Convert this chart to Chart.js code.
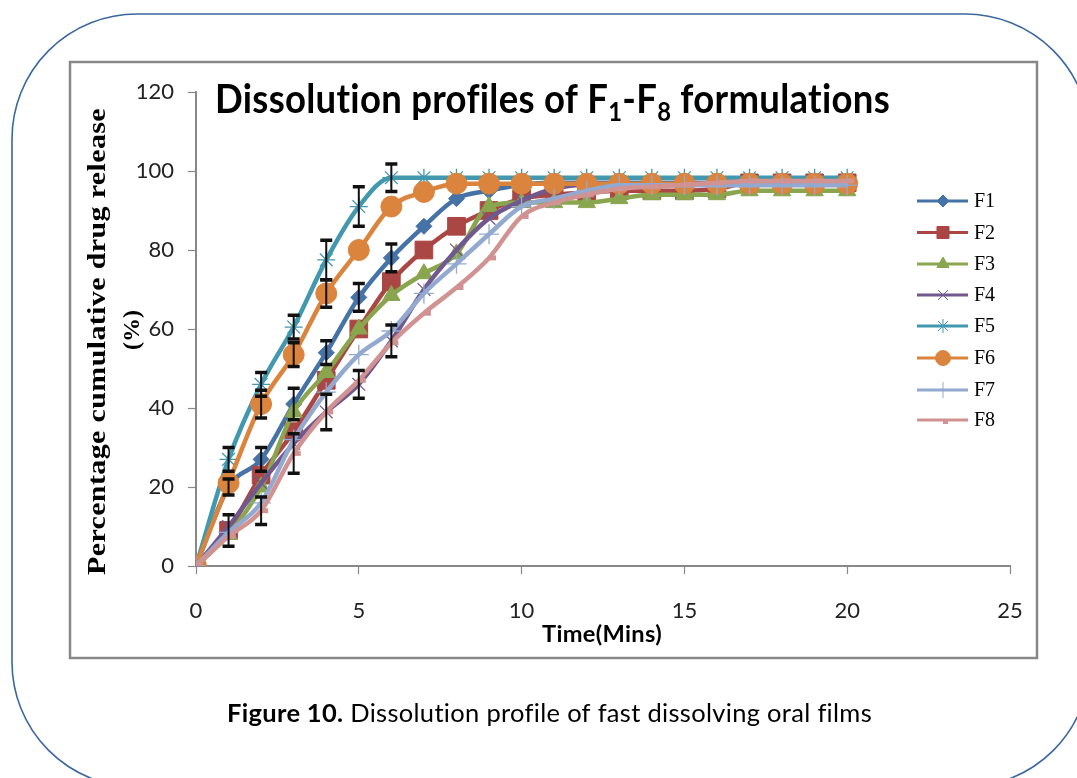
<!DOCTYPE html>
<html>
<head>
<meta charset="utf-8">
<title>Dissolution profiles</title>
<script src="https://cdn.jsdelivr.net/npm/chart.js@4/dist/chart.umd.min.js"></script>
<style>
  html, body { margin: 0; padding: 0; background: #fff; }
  #wrap { width: 1077px; height: 778px; position: relative; }
</style>
</head>
<body>
<div id="wrap"><canvas id="lineChart"></canvas></div>
<script>
// time points (minutes)
var timeMins = [0,1,2,3,4,5,6,7,8,9,10,11,12,13,14,15,16,17,18,19,20];
var xTicks = [0,5,10,15,20,25];
var yTicks = [0,20,40,60,80,100,120];

// % cumulative drug release
var F1 = [0,20,27,41,54,68,78,86,93,95,96.5,97,97,97,97,97,97,97,97,97,97];
var F2 = [0,9,23,34,47,60,72,80,86,90,93,94,94.5,95,95,95,95.5,97,97,97,97];
var F3 = [0,8,20,39,49,60,68.5,74,79,91,92,92,92,93,94,94,94,95,95,95,95];
var F4 = [0,10,21,31,39,46,57,70,80,88,92.5,95.5,96.5,96.5,96.5,96.5,96.5,96.5,96.5,96.5,96.5];
var F5 = [0,27,46,60.5,77.5,91,98.3,98.3,98.3,98.3,98.3,98.3,98.3,98.3,98.3,98.3,98.3,98.3,98.3,98.3,98.3];
var F6 = [0,21,41,53.5,69,80,91,94.7,96.8,96.8,96.8,96.8,96.8,96.8,96.8,96.8,96.8,96.8,96.8,96.8,96.8];
var F7 = [0,8.5,16,32,44,53.5,59.5,69,76.5,84,91,93,95,96.4,96.4,96.4,96.4,96.4,96.4,96.4,96.4];
var F8 = [0,7.5,14,28.5,39,47,56.5,64,70.5,78,88.5,92,94,95.5,96,96.5,97,97.5,97.5,97.5,97.5];

// error bars (+/-), only where the figure shows them
var errF1 = [null,2,3,4,3,3.5,3.5,null,null,null,null,null,null,null,null,null,null,null,null,null,null];
var errF2 = [null,4,null,null,null,null,null,null,null,null,null,null,null,null,null,null,null,null,null,null,null];
var errF4 = [null,null,null,null,4.5,3.5,4,null,null,null,null,null,null,null,null,null,null,null,null,null,null];
var errF5 = [null,3,3,3,5,5,3.5,null,null,null,null,null,null,null,null,null,null,null,null,null,null];
var errF6 = [null,null,3.5,3,3.5,null,null,null,null,null,null,null,null,null,null,null,null,null,null,null,null];
var errF8 = [null,null,3.5,5,null,null,null,null,null,null,null,null,null,null,null,null,null,null,null,null,null];

var seriesNames = ['F1','F2','F3','F4','F5','F6','F7','F8'];
var seriesData = [F1, F2, F3, F4, F5, F6, F7, F8];
var seriesErr = [errF1, errF2, null, errF4, errF5, errF6, null, errF8];
var colors = ['#4572A7','#AA4643','#89A54E','#71588F','#4198AF','#DB843D','#93A9CF','#D19392'];
var markers = ['rectRot','rect','triangle','crossRot','star','circle','cross','dash'];
var markerSize = [8,12.5,10,9,9,10.5,10,7];
var legendSize = [6,8.5,7,7,7,7.5,8,5];
var thinMarker = {crossRot:true, star:true, cross:true};

function toPoints(arr) {
    var pts = [];
    for (var i = 0; i < timeMins.length; i++) pts.push({x: timeMins[i], y: arr[i]});
    return pts;
}

var datasets = [];
for (var i = 0; i < seriesNames.length; i++) {
    datasets.push({
        label           : seriesNames[i],
        data            : toPoints(seriesData[i]),
        borderColor     : colors[i],
        backgroundColor : colors[i],
        borderWidth     : 4.5,
        pointStyle      : markers[i],
        pointRadius     : markerSize[i],
        pointBorderWidth: thinMarker[markers[i]] ? 1.3 : (markers[i] == 'dash' ? 5 : 1),
        pointBorderColor: colors[i],
        pointBackgroundColor: colors[i],
        tension         : (i == 4 || i == 7) ? 0 : 0.3,
        cubicInterpolationMode: 'monotone',
        order           : 8 - i,
        errors          : seriesErr[i]
    });
}

// draws text parts in a row, squeezed to a given width
function fitText(ctx, parts, x, y, width) {
    ctx.letterSpacing = '0.3px'; // stops the fi / ti ligatures
    var total = 0;
    parts.forEach(function(p){ ctx.font = p.font; total += ctx.measureText(p.text).width; });
    var k = width / total;
    ctx.save();
    ctx.translate(x, y);
    ctx.scale(k, 1);
    var cx = 0;
    parts.forEach(function(p){
        ctx.font = p.font;
        ctx.fillText(p.text, cx, p.dy || 0);
        cx += ctx.measureText(p.text).width;
    });
    ctx.restore();
    ctx.letterSpacing = '0px';
}

function drawMarker(ctx, style, r, x, y, color, bw) {
    ctx.save();
    ctx.fillStyle = color;
    ctx.strokeStyle = color;
    ctx.lineWidth = bw;
    Chart.helpers.drawPoint(ctx, {pointStyle: style, radius: r, borderWidth: bw}, x, y);
    ctx.restore();
}

var framePlugin = {
    id: 'frame',
    beforeDraw: function(chart) {
        var ctx = chart.ctx;
        ctx.save();
        ctx.fillStyle = '#fff';
        ctx.fillRect(0, 0, chart.width, chart.height);
        // outer rounded box
        ctx.strokeStyle = '#3b67a0';
        ctx.lineWidth = 1.6;
        ctx.beginPath();
        ctx.roundRect(12, 14, 1078, 773, 125);
        ctx.stroke();
        // grey chart frame
        ctx.strokeStyle = '#888';
        ctx.lineWidth = 2.5;
        ctx.strokeRect(70, 62, 967, 596);
        ctx.restore();
    },
    afterDatasetsDraw: function(chart) {
        var ctx = chart.ctx;
        var xs = chart.scales.x, ys = chart.scales.y;
        ctx.save();
        ctx.strokeStyle = '#111';
        chart.data.datasets.forEach(function(ds, di){
            if (!ds.errors) return;
            ds.errors.forEach(function(e, j){
                if (e == null) return;
                var v = seriesData[di][j];
                var px = xs.getPixelForValue(timeMins[j]);
                var top = ys.getPixelForValue(v + e);
                var bot = ys.getPixelForValue(v - e);
                ctx.lineWidth = 2;
                ctx.beginPath();
                ctx.moveTo(px, top); ctx.lineTo(px, bot);
                ctx.stroke();
                ctx.lineWidth = 3.5;
                ctx.beginPath();
                ctx.moveTo(px - 6, top); ctx.lineTo(px + 6, top);
                ctx.moveTo(px - 6, bot); ctx.lineTo(px + 6, bot);
                ctx.stroke();
            });
        });
        ctx.restore();
    },
    afterDraw: function(chart) {
        var ctx = chart.ctx;
        ctx.save();
        ctx.fillStyle = '#000';
        ctx.textBaseline = 'alphabetic';
        // chart title with subscripts
        var big = 'bold 40px Lato', small = 'bold 26px Lato';
        fitText(ctx, [
            {text: 'Dissolution profiles of F', font: big},
            {text: '1', font: small, dy: 8},
            {text: '-F', font: big},
            {text: '8', font: small, dy: 8},
            {text: ' formulations', font: big}
        ], 215, 113, 675);

        // x axis title
        fitText(ctx, [{text: 'Time(Mins)', font: 'bold 22px Lato'}], 542, 642, 120);

        // y axis title (rotated)
        ctx.save();
        ctx.translate(105, 575);
        ctx.rotate(-Math.PI / 2);
        fitText(ctx, [{text: 'Percentage cumulative drug release', font: 'bold 26px "Liberation Serif"'}], 0, 0, 467);
        ctx.restore();
        ctx.save();
        ctx.translate(139, 330);
        ctx.rotate(-Math.PI / 2);
        ctx.font = 'bold 24px "Liberation Serif"';
        ctx.textAlign = 'center';
        ctx.fillText('(%)', 0, 0);
        ctx.restore();

        // legend
        var ly = [201,232.5,264,295,326,358,390,420];
        for (var i = 0; i < seriesNames.length; i++) {
            ctx.strokeStyle = colors[i];
            ctx.lineWidth = 3;
            ctx.beginPath();
            ctx.moveTo(917, ly[i]); ctx.lineTo(968, ly[i]);
            ctx.stroke();
            var st = markers[i];
            drawMarker(ctx, st, legendSize[i], 943, st == 'dash' ? ly[i] + 2 : ly[i], colors[i],
                thinMarker[st] ? 1 : (st == 'dash' ? 4 : 1));
            ctx.fillStyle = '#000';
            ctx.font = '20px "Liberation Serif"';
            ctx.textBaseline = 'middle';
            ctx.fillText(seriesNames[i], 974, ly[i] + 1);
        }

        // figure caption
        ctx.textBaseline = 'alphabetic';
        fitText(ctx, [
            {text: 'Figure 10.', font: 'bold 25px Lato'},
            {text: ' Dissolution profile of fast dissolving oral films', font: '25px Lato'}
        ], 227, 722, 645);
        ctx.restore();
    }
};

var ctxLine = document.getElementById('lineChart').getContext('2d');
var lineChart = new Chart(ctxLine, {
    type: 'line',
    data: { datasets: datasets },
    options: {
        responsive: true,
        maintainAspectRatio: false,
        animation: false,
        devicePixelRatio: 1,
        layout: { padding: { left: 0, top: 92, right: 67, bottom: 152 } },
        plugins: {
            legend: { display: false },
            tooltip: { enabled: false },
            title: { display: false }
        },
        scales: {
            x: {
                type: 'linear',
                min: 0, max: 25,
                afterFit: function(scale){ scale.height = 60; },
                afterBuildTicks: function(scale){ scale.ticks = xTicks.map(function(v){ return {value: v}; }); },
                ticks: { padding: 24, color: '#222', font: { family: 'Lato', size: 22 } },
                grid: { drawOnChartArea: false, drawTicks: true, tickLength: 8, tickColor: '#888', tickWidth: 1.2 },
                border: { color: '#888', width: 2 }
            },
            y: {
                min: 0, max: 120,
                afterFit: function(scale){ scale.width = 196; },
                afterBuildTicks: function(scale){ scale.ticks = yTicks.map(function(v){ return {value: v}; }); },
                ticks: { padding: 14, color: '#222', font: { family: 'Lato', size: 22 } },
                grid: { drawOnChartArea: false, drawTicks: true, tickLength: 8, tickColor: '#888', tickWidth: 1.2 },
                border: { color: '#888', width: 2 }
            }
        }
    },
    plugins: [framePlugin]
});
</script>
</body>
</html>
